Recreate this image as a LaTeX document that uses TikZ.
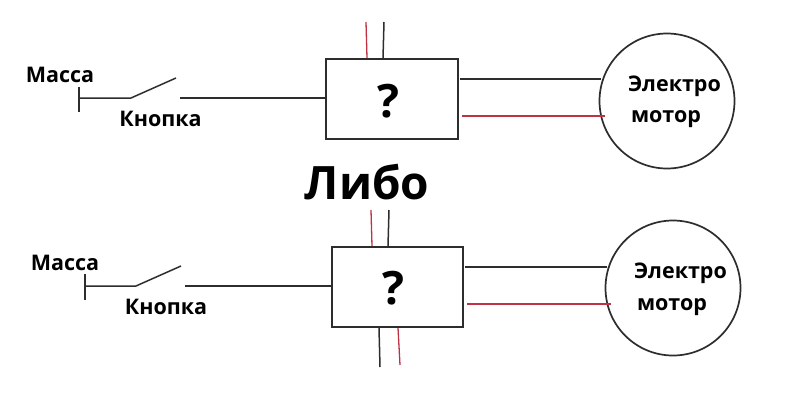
\documentclass[tikz,border=0pt]{standalone}
\usepackage{fontspec}
\setmainfont{Open Sans}
\definecolor{wire}{RGB}{45,45,45}
\definecolor{redwire}{RGB}{190,50,70}
\tikzset{
  wirek/.style={draw=wire,line width=1.5pt},
  wirer/.style={draw=redwire,line width=1.3pt},
  boxk/.style={draw=wire,line width=1.8pt,minimum width=132pt,minimum height=80pt,inner sep=0pt},
  motor/.style={circle,draw=wire,line width=1.7pt,minimum size=135pt,inner sep=0pt},
  qmark/.style={inner sep=0pt,font=\fontsize{46}{46}\selectfont\bfseries,text=black},
  lbl/.style={inner sep=0pt,font=\fontsize{21.5}{21.5}\selectfont\bfseries,text=black},
}
\begin{document}
\begin{tikzpicture}[x=1pt,y=-1pt]
\useasboundingbox (0,0) rectangle (800,405);
% upper circuit
\node[boxk] (b1) at (392,99) {};
\node[qmark] (q1) at (388,101) {?};
\node[motor] (m1) at (667,101) {};
\node[lbl] (el1) at (674.5,86) {Электро};
\node[lbl] (mo1) at (666,119) {мотор};
\node[lbl] (ma1) at (60,75) {Масса};
\node[lbl] (kn1) at (160.5,119) {Кнопка};
\coordinate (g1a) at (79,87); \coordinate (g1b) at (79,112);
\coordinate (g1) at (79,98); \coordinate (s1a) at (131,98);
\coordinate (s1b) at (176,78); \coordinate (s1c) at (180,98);
\draw[wirek] (g1a) -- (g1b);
\draw[wirek] (g1) -- (s1a) -- (s1b);
\draw[wirek] (s1c) -- (s1c -| b1.west);
\coordinate (t1r) at (366,22); \coordinate (t1k) at (384,22);
\draw[wirer] (t1r) -- ([xshift=-25pt]b1.north);
\draw[wirek] (t1k) -- ([xshift=-9pt]b1.north);
\coordinate (o1k) at (460,79); \coordinate (o1r) at (462,116);
\coordinate (e1k) at (601,79); \coordinate (e1r) at (605,116);
\draw[wirek] (o1k) -- (e1k);
\draw[wirer] (o1r) -- (e1r);
% title
\node[inner sep=0pt,font=\fontsize{46}{46}\selectfont\bfseries] (t) at (367,182) {Либо};
% lower circuit
\node[boxk,minimum width=131pt] (b2) at (397.5,287) {};
\node[qmark] (q2) at (393,288) {?};
\node[motor] (m2) at (673,288) {};
\node[lbl] (el2) at (680.5,273) {Электро};
\node[lbl] (mo2) at (672,307) {мотор};
\node[lbl] (ma2) at (65,263) {Масса};
\node[lbl] (kn2) at (166,307) {Кнопка};
\coordinate (g2a) at (85,274); \coordinate (g2b) at (85,300);
\coordinate (g2) at (85,286); \coordinate (s2a) at (136,286);
\coordinate (s2b) at (181,266); \coordinate (s2c) at (185,286);
\draw[wirek] (g2a) -- (g2b);
\draw[wirek] (g2) -- (s2a) -- (s2b);
\draw[wirek] (s2c) -- (s2c -| b2.west);
\coordinate (t2r) at (371,210); \coordinate (t2k) at (389,210);
\draw[wirer] (t2r) -- ([xshift=-25.5pt]b2.north);
\draw[wirek] (t2k) -- ([xshift=-9.5pt]b2.north);
\coordinate (u2k) at (380,367); \coordinate (u2r) at (400,365);
\draw[wirek] ([xshift=-18.5pt]b2.south) -- (u2k);
\draw[wirer] ([xshift=.5pt]b2.south) -- (u2r);
\coordinate (o2k) at (465,267); \coordinate (o2r) at (467,304);
\coordinate (e2k) at (607,267); \coordinate (e2r) at (611,304);
\draw[wirek] (o2k) -- (e2k);
\draw[wirer] (o2r) -- (e2r);
\end{tikzpicture}
\end{document}
